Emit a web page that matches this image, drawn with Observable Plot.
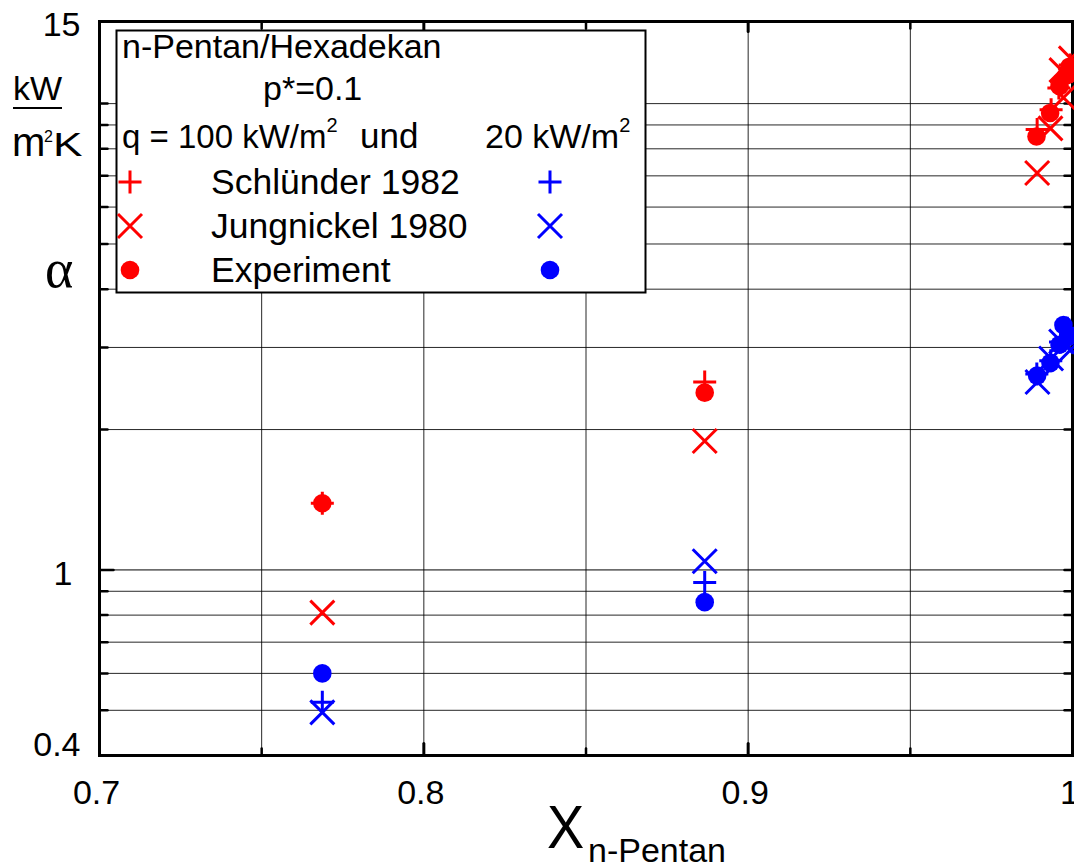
<!DOCTYPE html>
<html>
<head>
<meta charset="utf-8">
<script src="https://cdn.jsdelivr.net/npm/d3@7"></script>
<script src="https://cdn.jsdelivr.net/npm/@observablehq/plot@0.6"></script>
<style>
  html, body { margin: 0; padding: 0; background: #fff; }
  #chart { width: 1074px; height: 867px; overflow: hidden; }
</style>
</head>
<body>
<div id="chart"></div>
<script>
// Heat transfer coefficient α (kW/m²K) for boiling n-pentane/hexadecane at p* = 0.1,
// plotted against the n-pentane mole fraction. Each pair is [X_n-Pentan, α].

// q = 100 kW/m²
const schluender100 = [[0.7687, 1.39], [0.8866, 2.53], [0.9891, 8.8], [0.9934, 9.7], [0.9958, 10.8], [0.9979, 11.4], [0.9993, 12.1]];
const jungnickel100 = [[0.7687, 0.81], [0.8866, 1.89], [0.9891, 7.1], [0.9932, 8.85], [0.9966, 11.8], [0.9972, 10.3], [0.9995, 12.5]];
const experiment100 = [[0.7687, 1.39], [0.8866, 2.40], [0.9889, 8.5], [0.9931, 9.55], [0.9960, 10.9], [0.9981, 11.5], [0.9991, 12.0]];

// q = 20 kW/m²
const schluender20 = [[0.7687, 0.52], [0.8866, 0.94], [0.9890, 2.63], [0.9933, 2.81], [0.9963, 3.08], [0.9984, 3.3]];
const jungnickel20 = [[0.7687, 0.495], [0.8866, 1.044], [0.9892, 2.53], [0.9934, 2.84], [0.9965, 3.09], [0.9995, 2.97]];
const experiment20 = [[0.7687, 0.60], [0.8866, 0.853], [0.9891, 2.61], [0.9932, 2.78], [0.9960, 3.04], [0.9972, 3.35], [0.9987, 3.16]];

// Axis ticks and grid
const xTickLabels = [0.7, 0.8, 0.9, 1];
const xGridValues = [0.75, 0.8, 0.85, 0.9, 0.95];
const xMinorTicks = [0.75, 0.85, 0.95];
const xMajorTicks = [0.8, 0.9];
const yTickLabelTop = [15];
const yTickLabelOne = [1];
const yTickLabelBottom = [0.4];
const yGridValues = [0.5, 0.6, 0.7, 0.8, 0.9, 2, 3, 4, 5, 6, 7, 8, 9, 10];
const yMajorGrid = [1];

const RED = "#ff0000";
const BLUE = "#0000ff";
const FONT = "'Liberation Sans', Arial, Helvetica, sans-serif";

// Stroke-only marker shapes; the dot radius r is the arm length.
const plusSymbol = {
  draw(ctx, size) {
    const r = Math.sqrt(size / Math.PI);
    ctx.moveTo(-r, 0); ctx.lineTo(r, 0);
    ctx.moveTo(0, -r); ctx.lineTo(0, r);
  }
};
const timesSymbol = {
  draw(ctx, size) {
    const r = Math.sqrt(size / Math.PI);
    ctx.moveTo(-r, -r); ctx.lineTo(r, r);
    ctx.moveTo(-r, r); ctx.lineTo(r, -r);
  }
};
// Short straight tick used for the inward axis ticks
const tickShape = {
  draw(ctx, l) { ctx.moveTo(0, 0); ctx.lineTo(0, -l); }
};

const R_PLUS = 11.5, R_TIMES = 12, R_DOT = 9.3;

const plusMark = (data, color) => Plot.dot(data, {x: d => d[0], y: d => d[1], r: R_PLUS, symbol: plusSymbol, fill: "none", stroke: color, strokeWidth: 3});
const timesMark = (data, color) => Plot.dot(data, {x: d => d[0], y: d => d[1], r: R_TIMES, symbol: timesSymbol, fill: "none", stroke: color, strokeWidth: 3});
const dotMark = (data, color) => Plot.dot(data, {x: d => d[0], y: d => d[1], r: R_DOT, fill: color, stroke: "none"});

const inwardTicks = (data, key, frameAnchor, rotate, length, strokeWidth) =>
  Plot.vector(data, {[key]: d => d, frameAnchor, rotate, length, anchor: "start", shape: tickShape, stroke: "#000", strokeWidth});

const yLabel = (ticks, dx, dy) =>
  Plot.axisY(ticks, {anchor: "left", tickSize: 0, tickPadding: 19, fontSize: 34, dx, dy, tickFormat: d => String(d), label: null});

const chart = Plot.plot({
  width: 1074,
  height: 867,
  marginLeft: 99,
  marginRight: 2,
  marginTop: 21,
  marginBottom: 112,
  x: {domain: [0.7, 1.0]},
  y: {type: "log", domain: [0.4, 15]},
  style: {fontFamily: FONT, background: "#fff", color: "#000", overflow: "visible"},
  marks: [
    Plot.gridY(yGridValues, {stroke: "#000", strokeOpacity: 0.85, strokeWidth: 1}),
    Plot.gridY(yMajorGrid, {stroke: "#000", strokeOpacity: 1, strokeWidth: 1}),
    Plot.gridX(xGridValues, {stroke: "#000", strokeOpacity: 0.85, strokeWidth: 1}),

    // inward ticks on all four sides
    inwardTicks(yGridValues, "y", "left", 90, 8, 2.5),
    inwardTicks(yMajorGrid, "y", "left", 90, 14, 2.5),
    inwardTicks(yGridValues, "y", "right", -90, 8, 2.5),
    inwardTicks(yMajorGrid, "y", "right", -90, 8, 2.5),
    inwardTicks(xMinorTicks, "x", "bottom", 0, 7, 2.5),
    inwardTicks(xMajorTicks, "x", "bottom", 0, 12, 3),
    inwardTicks(xMinorTicks, "x", "top", 180, 7, 2.5),
    inwardTicks(xMajorTicks, "x", "top", 180, 10, 3),

    Plot.frame({stroke: "#000", strokeWidth: 3}),

    // tick labels
    yLabel(yTickLabelTop, 0, 4),
    yLabel(yTickLabelOne, -8, 4),
    yLabel(yTickLabelBottom, 0, -10),
    Plot.axisX(xTickLabels, {anchor: "bottom", tickSize: 0, tickPadding: 24, fontSize: 34, dx: -3, tickFormat: d => d === 1 ? "1" : d3.format(".1f")(d), label: null}),

    // q = 100 kW/m²
    plusMark(schluender100, RED),
    timesMark(jungnickel100, RED),
    dotMark(experiment100, RED),
    // q = 20 kW/m²
    plusMark(schluender20, BLUE),
    timesMark(jungnickel20, BLUE),
    dotMark(experiment20, BLUE)
  ]
});

document.getElementById("chart").append(chart);

// Axis titles and legend box
const svg = d3.select(chart);
const titles = svg.append("g").attr("font-family", FONT).attr("fill", "#000").attr("text-anchor", "start");

// y title: kW / m²K and α
titles.append("text").attr("x", 13).attr("y", 100).attr("font-size", 34).text("kW");
titles.append("line").attr("x1", 13).attr("x2", 62).attr("y1", 108).attr("y2", 108)
  .attr("stroke", "#000").attr("stroke-width", 2);
titles.append("text").attr("x", 12).attr("y", 156).attr("font-size", 40).text("m");
titles.append("text").attr("x", 44).attr("y", 142).attr("font-size", 16).text("2");
titles.append("text").attr("x", 53).attr("y", 156).attr("font-size", 34)
  .attr("transform", "translate(53,0) scale(1.3,1) translate(-53,0)").text("K");
titles.append("text").attr("x", 45).attr("y", 287).attr("font-size", 54)
  .attr("font-family", "'Liberation Serif', 'DejaVu Serif', serif").text("α");

// x title: X with subscript
titles.append("text").attr("x", 547).attr("y", 848).attr("font-size", 62)
  .attr("transform", "translate(547,0) scale(0.9,1) translate(-547,0)").text("X");
titles.append("text").attr("x", 588).attr("y", 862).attr("font-size", 34).text("n-Pentan");

// legend
const lg = svg.append("g").attr("font-family", FONT).attr("font-size", 34).attr("fill", "#000").attr("text-anchor", "start");
lg.append("rect").attr("x", 116.5).attr("y", 30.5).attr("width", 529).attr("height", 262)
  .attr("fill", "#fff").attr("stroke", "#000").attr("stroke-width", 2);
lg.append("text").attr("x", 122).attr("y", 58).text("n-Pentan/Hexadekan");
lg.append("text").attr("x", 263).attr("y", 100).text("p*=0.1");
const q1 = lg.append("text").attr("x", 122).attr("y", 148).attr("font-size", 33);
q1.append("tspan").text("q = 100 kW/m");
q1.append("tspan").attr("font-size", 20).attr("dy", -16).text("2");
lg.append("text").attr("x", 360).attr("y", 148).attr("font-size", 35).text("und");
const q2 = lg.append("text").attr("x", 485).attr("y", 148);
q2.append("tspan").text("20 kW/m");
q2.append("tspan").attr("font-size", 20).attr("dy", -16).text("2");

const legendRows = [
  {label: "Schlünder 1982", symbol: plusSymbol, r: R_PLUS, y: 182},
  {label: "Jungnickel 1980", symbol: timesSymbol, r: R_TIMES, y: 226},
  {label: "Experiment", symbol: null, r: R_DOT, y: 270}
];
for (const row of legendRows) {
  lg.append("text").attr("x", 211).attr("y", row.y + 12).attr("font-size", 35.5).text(row.label);
  for (const [cx, color] of [[130, RED], [550, BLUE]]) {
    if (row.symbol) {
      lg.append("path")
        .attr("d", d3.symbol(row.symbol, Math.PI * row.r * row.r)())
        .attr("transform", `translate(${cx},${row.y})`)
        .attr("fill", "none").attr("stroke", color).attr("stroke-width", 3);
    } else {
      lg.append("circle").attr("cx", cx).attr("cy", row.y).attr("r", row.r).attr("fill", color);
    }
  }
}
</script>
</body>
</html>
